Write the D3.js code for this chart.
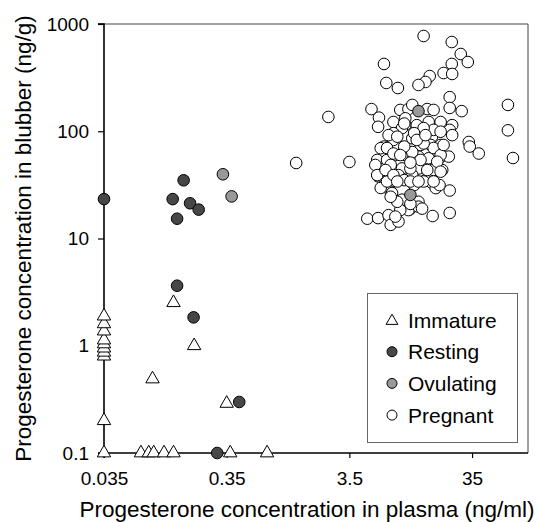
<!DOCTYPE html>
<html><head><meta charset="utf-8">
<script src="https://cdn.jsdelivr.net/npm/d3@7"></script>
<style>body{margin:0;background:#fff}svg{display:block}text{font-family:"Liberation Sans",Arial,sans-serif;fill:#000}</style>
</head><body>
<svg id="chart" width="541" height="522"></svg>
<script>
const xTicks = [0.035, 0.35, 3.5, 35];
const yTicks = [0.1, 1, 10, 100, 1000];
const xTickLabels = ["0.035", "0.35", "3.5", "35"];
const yTickLabels = ["0.1", "1", "10", "100", "1000"];
const xTitle = "Progesterone concentration in plasma (ng/ml)";
const yTitle = "Progesterone concentration in blubber (ng/g)";
const legendLabels = ["Immature", "Resting", "Ovulating", "Pregnant"];

// [plasma ng/ml, blubber ng/g]
const immature = [
  [0.035,0.1],[0.035,0.2],[0.035,0.80],[0.035,0.87],[0.035,0.95],[0.035,1.04],[0.035,1.13],[0.035,1.37],[0.035,1.60],[0.035,1.89],
  [0.129,2.52],[0.19,1.0],[0.087,0.49],[0.35,0.29],
  [0.070,0.1],[0.081,0.1],[0.089,0.1],[0.108,0.1],[0.129,0.1],[0.374,0.1],[0.747,0.1]
];
const resting = [
  [0.035,23.3],[0.156,34.9],[0.127,23.3],[0.176,21.3],[0.207,18.6],[0.138,15.3],
  [0.138,3.63],[0.188,1.84],[0.443,0.299],[0.293,0.1]
];
const ovulating = [[0.326,39.7],[0.384,24.7],[12.8,154],[11.0,25.5]];
const pregnant = [
  [14.1,773],[23.9,679],[28.3,525],[32.3,442],[23.9,424],[20.5,349],[24.1,342],[15.8,327],[14.6,288],[12.8,270],
  [6.7,424],[7.0,282],[8.7,253],[23.0,208],[23.0,165],[28.8,154],[68.6,176],[68.6,102],[75.4,56.3],[2.36,136],
  [1.29,50.6],[3.5,51.7],[32.9,79.4],[33.5,72],[39.7,62],[23.0,28],[23.0,17.3],[16.7,16.2],[4.9,15.3],[6.0,15.5],
  [7.3,16.5],[7.6,13.4],[8.8,14.4],[10.9,18.7],
  [5.3,161],[6.1,134],[6.0,110],[8.0,122],[9.1,158],[10.6,161],[11.4,176],[15.1,161],[17.0,158],[15.5,122],
  [10.0,114],[9.4,107],[7.6,89],[8.0,83],[12.8,107],[15.1,99],[13.7,89],[16.5,89],[16.1,74.5],[13.3,74.5],
  [11.4,86],[6.7,72],[6.3,69.5],[9.8,66.8],[8.3,60],[10.0,60],[12.8,58],[15.5,56],[11.4,54],[5.9,54],
  [7.1,54],[5.7,48.5],[7.6,48.5],[9.4,45],[12.8,45],[17.7,47],[6.0,38],[6.9,33],[8.8,39],[11.4,39],
  [14.6,35],[16.5,33],[17.7,29.5],[7.6,27.3],[8.8,22],[12.8,22],[10.6,18.4],[12.8,19.8],
  [19.4,122],[24.1,114],[23.0,103],[24.1,92],[17.0,103],[19.4,74.5],[17.0,69.8],[19.6,58],[22.6,58],[20.0,43.5],
  [17.0,43.5],[19.0,31.5],
  [10.0,132],[8.0,96],[19.4,99],[11.4,64],[14.1,77],[11.0,45],[9.8,35],[11.8,31.5],[14.1,34],[6.3,29.6],
  [7.8,26.5],[9.4,23],[9.1,18.4],[13.7,19],[8.3,16],[7.1,34],[5.9,39],[13.3,54],[19.4,60],
  [9.8,118],[12.4,114],[14.1,107],[7.3,92],[8.6,89],[11.8,96],[12.4,83],[14.6,92],[20.5,74.5],[7.1,69.8],
  [9.8,72],[8.0,62],[9.1,60],[11.0,51],[18.2,52],[6.9,43.5],[8.0,39],[15.1,43.5],[19.4,42],[8.6,34],
  [11.0,34],[12.8,34],[17.0,34],[8.6,22],[11.0,21],[7.6,24.5]
];

const svg = d3.select("#chart");
const L = 104, R = 528, T = 24, B = 453;
const x = d3.scaleLog().domain([0.035, 100]).range([L, R]);
const y = d3.scaleLog().domain([0.1, 1000]).range([B, T]);

// box (top/right)
svg.append("line").attr("x1", L - 6).attr("x2", R).attr("y1", T).attr("y2", T).attr("stroke", "#444").attr("stroke-width", 1);
svg.append("line").attr("x1", R).attr("x2", R).attr("y1", T).attr("y2", B).attr("stroke", "#444").attr("stroke-width", 1);

const yAxis = svg.append("g").attr("transform", `translate(${L},0)`)
  .call(d3.axisLeft(y).tickValues(yTicks).tickSize(6).tickPadding(9).tickFormat((d, i) => yTickLabels[i]));
const xAxis = svg.append("g").attr("transform", `translate(0,${B})`)
  .call(d3.axisBottom(x).tickValues(xTicks).tickSize(5).tickPadding(14).tickFormat((d, i) => xTickLabels[i]));
[xAxis, yAxis].forEach(g => {
  g.select(".domain").attr("stroke", "#000").attr("stroke-width", 1.6);
  g.selectAll(".tick line").attr("stroke", "#000").attr("stroke-width", 1.2);
  g.selectAll(".tick text").attr("font-size", 19).attr("font-family", '"Liberation Sans",Arial,sans-serif').attr("fill", "#000");
});
yAxis.select(".domain").attr("d", `M-6,${B}H0V${T}H-6`);
xAxis.select(".domain").attr("d", `M${L},5V0H${R}`);

svg.append("text").attr("x", 307).attr("y", 517).attr("text-anchor", "middle").attr("font-size", 22.5).text(xTitle);
svg.append("text").attr("transform", `translate(31,${(T + B) / 2}) rotate(-90)`).attr("text-anchor", "middle").attr("font-size", 22.5).text(yTitle);

const tri = d3.symbol().type(d3.symbolTriangle).size(78);
svg.append("g").selectAll("path").data(immature).join("path")
  .attr("d", tri).attr("transform", d => `translate(${x(d[0])},${y(d[1])})`)
  .attr("fill", "#fff").attr("stroke", "#000").attr("stroke-width", 1);
svg.append("g").selectAll("circle").data(resting).join("circle")
  .attr("cx", d => x(d[0])).attr("cy", d => y(d[1])).attr("r", 5.8)
  .attr("fill", "#474747").attr("stroke", "#000").attr("stroke-width", 1);
svg.append("g").selectAll("circle").data(pregnant).join("circle")
  .attr("cx", d => x(d[0])).attr("cy", d => y(d[1])).attr("r", 5.8)
  .attr("fill", "#fff").attr("stroke", "#000").attr("stroke-width", 1);
svg.append("g").selectAll("circle").data(ovulating).join("circle")
  .attr("cx", d => x(d[0])).attr("cy", d => y(d[1])).attr("r", 5.8)
  .attr("fill", "#999").attr("stroke", "#000").attr("stroke-width", 1);

// legend
const lg = svg.append("g");
lg.append("rect").attr("x", 367.5).attr("y", 293.5).attr("width", 150).attr("height", 149)
  .attr("fill", "#fff").attr("stroke", "#666").attr("stroke-width", 1);
const legFills = ["#fff", "#474747", "#999", "#fff"];
legendLabels.forEach((lab, i) => {
  const cy = 320 + i * 31.7;
  if (i === 0) {
    lg.append("path").attr("d", d3.symbol().type(d3.symbolTriangle).size(60)())
      .attr("transform", `translate(392,${cy + 1})`).attr("fill", "#fff").attr("stroke", "#000").attr("stroke-width", 1);
  } else {
    lg.append("circle").attr("cx", 392).attr("cy", cy).attr("r", 5)
      .attr("fill", legFills[i]).attr("stroke", "#000").attr("stroke-width", 1);
  }
  lg.append("text").attr("x", 408).attr("y", cy + 7.5).attr("font-size", 21).text(lab);
});
</script>
</body></html>
